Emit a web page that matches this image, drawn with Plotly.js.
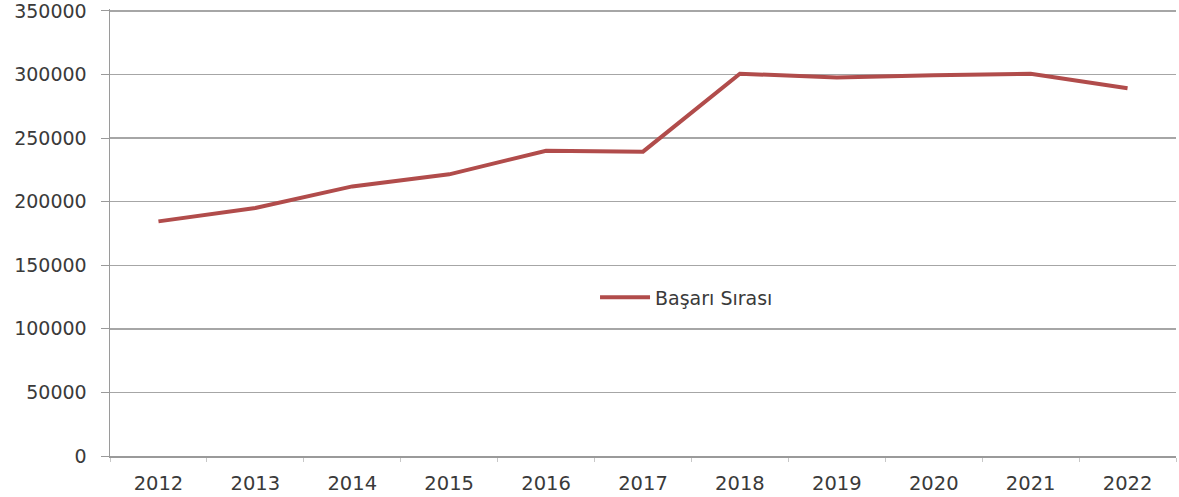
<!DOCTYPE html>
<html>
<head>
<meta charset="utf-8">
<script src="https://cdn.plot.ly/plotly-3.0.1.min.js"></script>
<style>html,body{margin:0;padding:0;background:#fff;}#chart{width:1179px;height:497px;}</style>
</head>
<body>
<div id="chart"></div>
<script>
const years = ["2012","2013","2014","2015","2016","2017","2018","2019","2020","2021","2022"];
const basariSirasi = [184500, 195000, 212000, 221500, 240000, 239300, 300600, 297700, 299500, 300500, 289200];
const seriesName = "Başarı Sırası";
const yTicks = [0, 50000, 100000, 150000, 200000, 250000, 300000, 350000];

const trace = {
  x: years,
  y: basariSirasi,
  type: "scatter",
  mode: "lines",
  name: seriesName,
  line: {color: "#b14c4b", width: 4}
};

const layout = {
  width: 1179,
  height: 497,
  margin: {l: 110, r: 3, t: 9, b: 41, pad: 0},
  paper_bgcolor: "#ffffff",
  plot_bgcolor: "#ffffff",
  font: {family: "DejaVu Sans", size: 19, color: "#3a3a3a"},
  showlegend: true,
  legend: {
    x: 0.455, y: 0.355, xanchor: "left", yanchor: "middle",
    bgcolor: "rgba(0,0,0,0)",
    font: {family: "DejaVu Sans", size: 19, color: "#3a3a3a"},
    itemwidth: 50
  },
  xaxis: {
    type: "category",
    range: [-0.5, 10.5],
    tickson: "boundaries",
    ticks: "outside",
    ticklen: 4,
    tickcolor: "#c8c8c8",
    ticklabelstandoff: 9,
    showgrid: false,
    showline: true,
    linecolor: "#9a9a9a",
    linewidth: 1.5,
    tickfont: {family: "DejaVu Sans", size: 19.5, color: "#3a3a3a"},
    fixedrange: true
  },
  yaxis: {
    range: [0, 351500],
    tickvals: yTicks,
    ticktext: yTicks.map(String),
    ticklabeloverflow: "allow",
    ticks: "outside",
    ticklen: 8,
    tickcolor: "#9a9a9a",
    ticklabelstandoff: 10,
    showgrid: true,
    gridcolor: "#a6a6a6",
    gridwidth: 1.5,
    zeroline: false,
    showline: true,
    linecolor: "#9a9a9a",
    linewidth: 1.5,
    tickfont: {family: "DejaVu Sans", size: 19, color: "#3a3a3a"},
    fixedrange: true
  }
};

Plotly.newPlot("chart", [trace], layout, {displayModeBar: false, staticPlot: true});
</script>
</body>
</html>
